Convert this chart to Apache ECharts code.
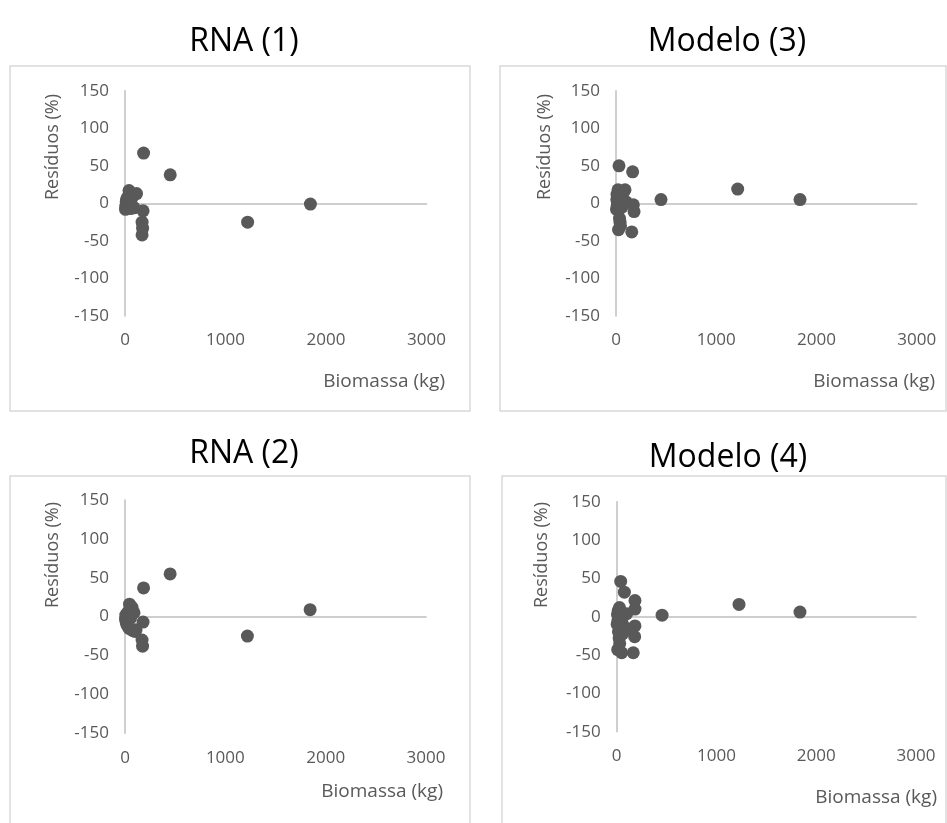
<!DOCTYPE html>
<html>
<head>
<meta charset="utf-8">
<script src="https://cdn.jsdelivr.net/npm/echarts@6/dist/echarts.min.js"></script>
<style>
html,body{margin:0;padding:0;background:#fff;}
#chart{width:947px;height:823px;}
</style>
</head>
<body>
<div id="chart"></div>
<script>
// ---- data ----
const panelTitles = ['RNA (1)', 'Modelo (3)', 'RNA (2)', 'Modelo (4)'];
const xAxisTitle = 'Biomassa (kg)';
const yAxisTitle = 'Resíduos (%)';
const xTickMin = 0, xTickMax = 3000, xTickStep = 1000;
const yTickMin = -150, yTickMax = 150, yTickStep = 50;

// RNA (1)
const rna1X = [5, 8, 10, 12, 15, 18, 20, 25, 30, 35, 40, 50, 55, 60, 70, 80, 90, 115, 180, 170, 175, 170, 185, 450, 1220, 1845];
const rna1Y = [-8, -5, -2, 2, 5, -6, 0, 8, -4, 3, 17, 12, -7, 5, -3, 10, -6, 13, -10, -25, -33, -42, 67, 38, -25, -1];
// Modelo (3)
const mod3X = [5, 8, 10, 12, 15, 18, 20, 25, 28, 30, 35, 40, 45, 25, 50, 60, 70, 90, 100, 173, 180, 166, 157, 449, 1214, 1836];
const mod3Y = [-8, 5, 12, -3, 0, 8, 18, -9, 3, 50, -20, -25, -30, -35, 10, -5, 14, 18, 2, -2, -11, 42, -38, 5, 19, 5];
// RNA (2)
const rna2X = [5, 8, 10, 12, 15, 20, 25, 30, 40, 45, 50, 55, 60, 70, 80, 90, 100, 110, 180, 170, 175, 185, 450, 1220, 1845];
const rna2Y = [-3, 2, -6, 0, -9, 4, -12, 6, -15, 16, 10, -2, -16, 12, -18, 5, -19, -17, -7, -30, -38, 37, 55, -25, 9];
// Modelo (4)
const mod4X = [5, 8, 10, 12, 15, 18, 20, 25, 28, 30, 35, 40, 45, 50, 55, 60, 70, 77, 80, 100, 120, 183, 183, 183, 180, 166, 455, 1226, 1837];
const mod4Y = [-10, 3, -43, -5, 8, -20, 0, -28, 12, -35, -15, 46, 5, -47, -8, -22, 2, 32, -18, 4, -16, 21, 10, -12, -26, -47, 2, 16, 6];

const seriesX = [rna1X, mod3X, rna2X, mod4X];
const seriesY = [rna1Y, mod3Y, rna2Y, mod4Y];

// ---- layout ----
const grids = [
  {left: 125, top: 90.7, width: 301.5, height: 225.3},
  {left: 616, top: 90.7, width: 300.7, height: 225.3},
  {left: 125, top: 500, width: 301, height: 233.3},
  {left: 616.7, top: 501.7, width: 299.3, height: 230}
];
const boxes = [
  {x: 10, y: 66, w: 460, h: 345},
  {x: 500, y: 66, w: 446, h: 345},
  {x: 10, y: 476, w: 460, h: 360},
  {x: 502, y: 476, w: 444, h: 360}
];
const titlePos = [{x: 239, y: 37}, {x: 722, y: 37}, {x: 239, y: 449}, {x: 723, y: 453}];
const yNamePos = [{x: 53, y: 147}, {x: 545, y: 147}, {x: 53, y: 555}, {x: 542, y: 555}];
const xNamePos = [{x: 445, y: 382}, {x: 935, y: 382}, {x: 443, y: 792}, {x: 937, y: 798}];

const FONT = '"Open Sans", sans-serif';
const TXT = '#595959';
const AXIS = '#bfbfbf';

const option = {
  backgroundColor: '#ffffff',
  animation: false,
  title: panelTitles.map((t, i) => ({
    text: t,
    left: titlePos[i].x,
    top: titlePos[i].y - 20,
    textAlign: 'center',
    textStyle: {fontFamily: FONT, fontSize: 32, fontWeight: 'normal', color: '#000', lineHeight: 40}
  })),
  grid: grids.map(g => Object.assign({containLabel: false}, g)),
  xAxis: [],
  yAxis: [],
  series: [],
  graphic: []
};

grids.forEach((g, i) => {
  option.xAxis.push({
    type: 'value', gridIndex: i, min: xTickMin, max: xTickMax, interval: xTickStep,
    position: 'bottom',
    axisLine: {show: true, onZero: true, lineStyle: {color: AXIS, width: 1.5}},
    axisTick: {show: false}, axisLabel: {show: false}, splitLine: {show: false}
  });
  option.xAxis.push({
    type: 'value', gridIndex: i, min: xTickMin, max: xTickMax, interval: xTickStep,
    position: 'bottom',
    axisLine: {show: false, onZero: false},
    axisTick: {show: false},
    axisLabel: {show: true, margin: 16, color: TXT, fontFamily: FONT, fontSize: 17, formatter: v => String(v)},
    splitLine: {show: false}
  });
  option.yAxis.push({
    type: 'value', gridIndex: i, min: yTickMin, max: yTickMax, interval: yTickStep,
    axisLine: {show: true, onZero: false, lineStyle: {color: AXIS, width: 1.5}},
    axisTick: {show: false},
    axisLabel: {show: true, margin: 16, color: TXT, fontFamily: FONT, fontSize: 17, formatter: v => String(v)},
    splitLine: {show: false}
  });
  option.series.push({
    type: 'scatter',
    xAxisIndex: 2 * i,
    yAxisIndex: i,
    symbolSize: 13,
    itemStyle: {color: '#595959', opacity: 1},
    data: seriesX[i].map((x, k) => [x, seriesY[i][k]])
  });
  const b = boxes[i];
  option.graphic.push({
    type: 'rect', z: -10, silent: true,
    shape: {x: b.x, y: b.y, width: b.w, height: b.h},
    style: {fill: 'none', stroke: '#d9d9d9', lineWidth: 1.5}
  });
  option.graphic.push({
    type: 'text', silent: true,
    x: yNamePos[i].x, y: yNamePos[i].y, rotation: Math.PI / 2,
    style: {text: yAxisTitle, fill: TXT, font: '18px ' + FONT, textAlign: 'center', textVerticalAlign: 'middle'}
  });
  option.graphic.push({
    type: 'text', silent: true,
    x: xNamePos[i].x, y: xNamePos[i].y,
    style: {text: xAxisTitle, fill: TXT, font: '19px ' + FONT, textAlign: 'right', textVerticalAlign: 'middle'}
  });
});

const chart = echarts.init(document.getElementById('chart'), null, {renderer: 'canvas'});
chart.setOption(option);
</script>
</body>
</html>
